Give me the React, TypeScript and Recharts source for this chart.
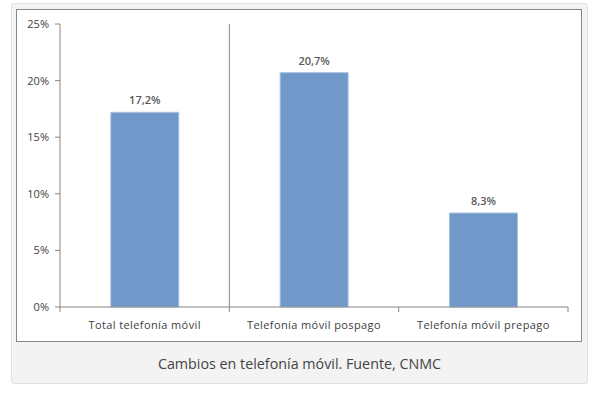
import React from 'react';
import { BarChart, Bar, XAxis, YAxis, ReferenceLine, LabelList } from 'recharts';

const categories = ['Total telefonía móvil', 'Telefonía móvil pospago', 'Telefonía móvil prepago'];
const changes = [17.2, 20.7, 8.3];
const yTicks = [0, 5, 10, 15, 20, 25];
const dividerAfter = categories[0];
const caption = 'Cambios en telefonía móvil. Fuente, CNMC';

const data = categories.map((name, i) => ({ name, value: changes[i] }));

const axisColor = '#868686';
const textColor = '#404040';
const font = '"Open Sans", sans-serif';

// category label plus tick marks on the band edges (Excel style)
const CategoryTick = (props: any) => {
  const { x, y, payload, index } = props;
  const half = payload.offset || 0;
  return (
    <g>
      {index === 0 && <line x1={x - half} x2={x - half} y1={y} y2={y + 5} stroke={axisColor} />}
      <line x1={x + half} x2={x + half} y1={y} y2={y + 5} stroke={axisColor} />
      <text
        x={x}
        y={y + 22}
        textAnchor="middle"
        fill={textColor}
        fontSize={11}
        fontFamily={font}
        letterSpacing={0.4}
      >
        {payload.value}
      </text>
    </g>
  );
};

const App: React.FC = () => {
  return (
    <div
      style={{
        position: 'absolute',
        left: 11,
        top: 3,
        width: 577,
        height: 381,
        boxSizing: 'border-box',
        background: '#f3f3f3',
        border: '1px solid #e2e2e2',
        borderRadius: 3,
        fontFamily: font,
      }}
    >
      <div
        style={{
          position: 'absolute',
          left: 4,
          top: 5,
          width: 566,
          height: 333,
          boxSizing: 'border-box',
          background: '#ffffff',
          border: `1px solid ${axisColor}`,
        }}
      >
        <BarChart
          width={564}
          height={331}
          data={data}
          margin={{ top: 14, right: 13, left: 0, bottom: 0 }}
          barCategoryGap="30%"
        >
          <XAxis
            dataKey="name"
            tickLine={false}
            tickSize={0}
            tickMargin={0}
            axisLine={{ stroke: axisColor }}
            height={34}
            interval={0}
            tick={<CategoryTick />}
          />
          <YAxis
            domain={[0, 25]}
            ticks={yTicks}
            width={43}
            tickSize={5}
            tickMargin={6}
            tickFormatter={(v: number) => `${v}%`}
            axisLine={{ stroke: axisColor }}
            tickLine={{ stroke: axisColor }}
            tick={{ fill: textColor, fontSize: 11, fontFamily: font }}
          />
          <ReferenceLine x={dividerAfter} position="end" stroke={axisColor} />
          <Bar dataKey="value" fill="#7098c9" stroke="#a9c1e0" strokeWidth={1} isAnimationActive={false}>
            <LabelList
              dataKey="value"
              position="top"
              offset={8}
              formatter={(v: number) => `${String(v).replace('.', ',')}%`}
              style={{ fill: '#595959', fontSize: 11, fontWeight: 600, fontFamily: font }}
            />
          </Bar>
        </BarChart>
      </div>
      <div
        style={{
          position: 'absolute',
          left: 0,
          right: 0,
          top: 350,
          textAlign: 'center',
          fontSize: 14.3,
          color: '#444444',
        }}
      >
        {caption}
      </div>
    </div>
  );
};

export default App;
